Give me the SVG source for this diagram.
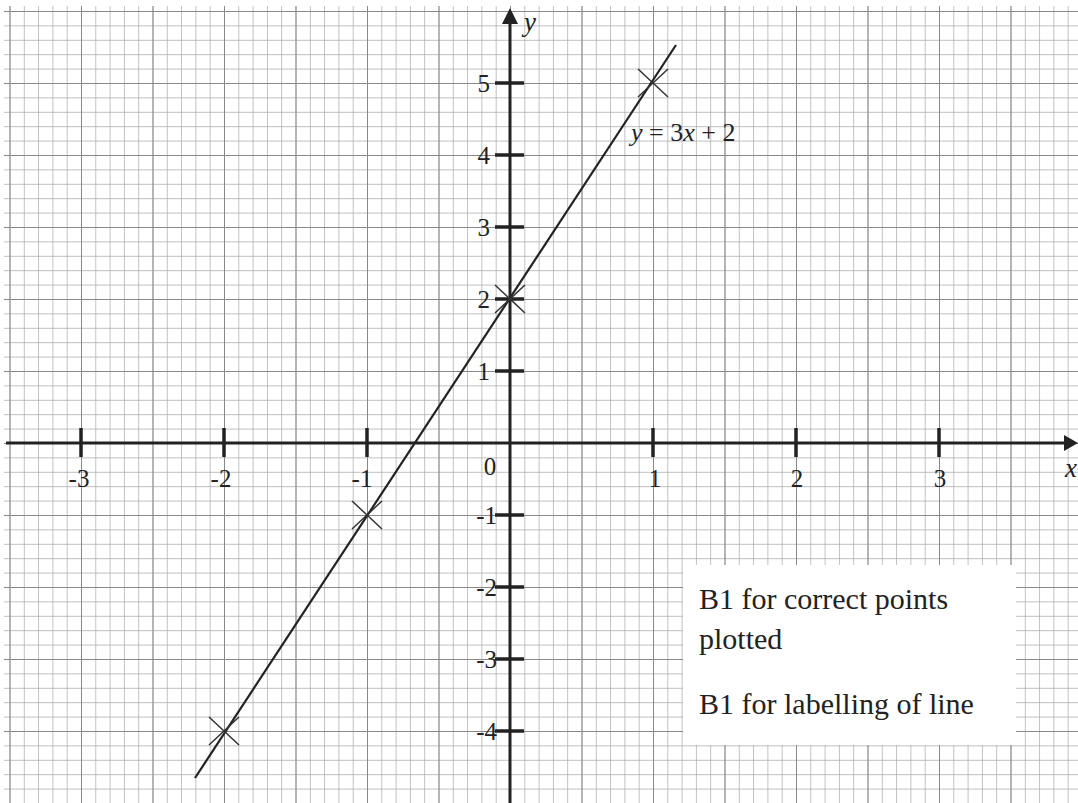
<svg xmlns="http://www.w3.org/2000/svg" width="1078" height="803" viewBox="0 0 1078 803">
<style>
.lbl{font-family:"Liberation Serif",serif;font-size:25px;fill:#222}
.it{font-family:"Liberation Serif",serif;font-style:italic;font-size:27px;fill:#222}
.note{font-family:"Liberation Serif",serif;font-size:30px;fill:#222}
.axis{stroke:#222;stroke-width:3;fill:none}
.tick{stroke:#222;stroke-width:3.5}
.plot{stroke:#222;stroke-width:2.2;fill:none}
.cross{stroke:#333;stroke-width:1.5;fill:none}
</style>
<defs>
<pattern id="fine" patternUnits="userSpaceOnUse" x="510" y="443" width="14.3" height="14.4">
<path d="M0 0V14.4M0 0H14.3" stroke="#a8a8a8" stroke-width="1.4" fill="none"/>
</pattern>
<pattern id="major" patternUnits="userSpaceOnUse" x="510" y="443" width="71.5" height="72">
<path d="M0 0V72M0 0H71.5" stroke="#888" stroke-width="2" fill="none"/>
</pattern>
</defs>
<rect width="1078" height="803" fill="#fff"/>
<g id="grid">
<rect x="4" y="6" width="1074" height="797" fill="url(#fine)"/>
<rect x="4" y="6" width="1074" height="797" fill="url(#major)"/>
</g>
<g id="axes">
<line class="axis" x1="6" y1="443" x2="1068" y2="443"/>
<polygon points="1078,443 1064,435 1064,451" fill="#222"/>
<line class="axis" x1="510" y1="803" x2="510" y2="20"/>
<polygon points="510,8 502,24 518,24" fill="#222"/>
<text class="it" x="524" y="31">y</text>
<text class="it" x="1065" y="477">x</text>
</g>
<g id="xticks">
<line class="tick" x1="81" y1="428" x2="81" y2="457"/>
<line class="tick" x1="224" y1="428" x2="224" y2="457"/>
<line class="tick" x1="367" y1="428" x2="367" y2="457"/>
<line class="tick" x1="653" y1="428" x2="653" y2="457"/>
<line class="tick" x1="796" y1="428" x2="796" y2="457"/>
<line class="tick" x1="939" y1="428" x2="939" y2="457"/>
<text class="lbl" x="79" y="487" text-anchor="middle">-3</text>
<text class="lbl" x="221" y="487" text-anchor="middle">-2</text>
<text class="lbl" x="362" y="487" text-anchor="middle">-1</text>
<text class="lbl" x="490" y="475" text-anchor="middle">0</text>
<text class="lbl" x="655" y="487" text-anchor="middle">1</text>
<text class="lbl" x="797" y="487" text-anchor="middle">2</text>
<text class="lbl" x="940" y="487" text-anchor="middle">3</text>
</g>
<g id="yticks">
<line class="tick" x1="495" y1="83" x2="524" y2="83"/>
<line class="tick" x1="495" y1="155" x2="524" y2="155"/>
<line class="tick" x1="495" y1="227" x2="524" y2="227"/>
<line class="tick" x1="495" y1="299" x2="524" y2="299"/>
<line class="tick" x1="495" y1="371" x2="524" y2="371"/>
<line class="tick" x1="495" y1="515" x2="524" y2="515"/>
<line class="tick" x1="495" y1="587" x2="524" y2="587"/>
<line class="tick" x1="495" y1="659" x2="524" y2="659"/>
<line class="tick" x1="495" y1="731" x2="524" y2="731"/>
<text class="lbl" x="490" y="92" text-anchor="end">5</text>
<text class="lbl" x="490" y="164" text-anchor="end">4</text>
<text class="lbl" x="490" y="236" text-anchor="end">3</text>
<text class="lbl" x="490" y="308" text-anchor="end">2</text>
<text class="lbl" x="490" y="380" text-anchor="end">1</text>
<text class="lbl" x="497" y="524" text-anchor="end">-1</text>
<text class="lbl" x="497" y="596" text-anchor="end">-2</text>
<text class="lbl" x="497" y="668" text-anchor="end">-3</text>
<text class="lbl" x="497" y="740" text-anchor="end">-4</text>
</g>
<g id="line">
<line class="plot" x1="195" y1="778" x2="676" y2="45"/>
<text x="631" y="141" style="font-family:'Liberation Serif',serif;font-size:26px;fill:#222"><tspan font-style="italic">y</tspan> = 3<tspan font-style="italic">x</tspan> + 2</text>
</g>
<g id="points">
<path class="cross" d="M209 717L239 745M209 745L239 717"/>
<path class="cross" d="M352 501L382 529M352 529L382 501"/>
<path class="cross" d="M495 285L525 313M495 313L525 285"/>
<path class="cross" d="M638 69L668 97M638 97L668 69"/>
</g>
<g id="note">
<rect x="683" y="565" width="333" height="180" fill="#fff"/>
<text class="note" x="699" y="609">B1 for correct points</text>
<text class="note" x="699" y="649">plotted</text>
<text class="note" x="699" y="714">B1 for labelling of line</text>
</g>
</svg>
